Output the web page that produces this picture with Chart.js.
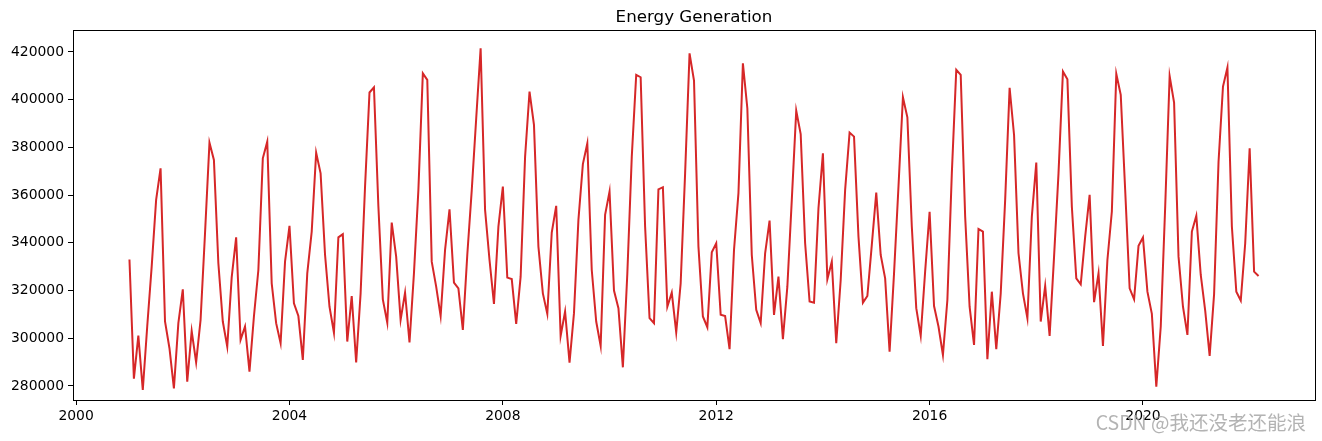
<!DOCTYPE html>
<html>
<head>
<meta charset="utf-8">
<script src="https://cdn.jsdelivr.net/npm/chart.js@4"></script>
<style>
  html, body { margin: 0; padding: 0; background: #fff; }
  #wrap { position: relative; width: 1322px; height: 441px; }
  canvas { display: block; }
</style>
</head>
<body>
<div id="wrap"><canvas id="c" width="1322" height="441"></canvas></div>
<script>
// ---- data (monthly, starting Jan 2001) ----
const startYear = 2001;
const startMonth = 1;
const generation = [
  // 2001
  333000, 283000, 301100, 278300, 305000, 330000, 358000, 371200, 307000, 295800, 279000, 306300,
  // 2002
  320500, 281800, 303000, 289900, 307700, 344000, 382000, 374700, 331400, 307000, 296500, 325500,
  // 2003
  342300, 299300, 304900, 286000, 309100, 328600, 375400, 382400, 323000, 306300, 297900, 332100,
  // 2004
  347100, 314600, 309300, 290900, 327200, 344700, 377800, 369100, 335000, 313200, 302300, 342300,
  // 2005
  343600, 298600, 317700, 289800, 318800, 363600, 403000, 405200, 355200, 316300, 306500, 348500,
  // 2006
  334200, 307700, 319100, 298200, 327200, 362200, 411000, 408300, 332100, 321600, 309300, 337000,
  // 2007
  354000, 323300, 320900, 303500, 335000, 362000, 392000, 421500, 353800, 332800, 314400, 346800,
  // 2008
  363600, 325400, 324800, 306000, 325800, 376000, 403400, 389400, 338400, 318800, 310200, 344300,
  // 2009
  355500, 301000, 311200, 289800, 310500, 349600, 373000, 381700, 328600, 307000, 296800, 351700,
  // 2010
  361500, 320000, 312600, 287800, 327000, 376000, 410400, 409400, 346800, 308400, 306300, 362400,
  // 2011
  363300, 313200, 319100, 302500, 323000, 369100, 419400, 408000, 338400, 309100, 304600, 336000,
  // 2012
  339800, 309800, 309300, 295400, 337000, 360800, 415200, 396400, 334900, 311900, 306300, 335600,
  // 2013
  349300, 309800, 325800, 299600, 321600, 358000, 395400, 385600, 339800, 315400, 314900, 354500,
  // 2014
  377500, 324700, 332100, 297900, 324400, 362200, 386200, 384500, 342600, 314900, 317700, 339100,
  // 2015
  361000, 334900, 325100, 294400, 327200, 363600, 401000, 392600, 346800, 312600, 301000, 328000,
  // 2016
  353000, 313500, 304900, 293000, 316000, 369100, 412500, 410400, 351000, 313200, 297200, 345800,
  // 2017
  344700, 291200, 319500, 295400, 318800, 358000, 405000, 385200, 335600, 318800, 308400, 351000,
  // 2018
  373600, 307000, 321900, 301000, 334200, 369100, 411800, 408500, 355200, 325100, 322600, 342600,
  // 2019
  360100, 315100, 327200, 296800, 332800, 353100, 410800, 402000, 362000, 320900, 316300, 338700,
  // 2020
  342200, 319500, 310200, 279700, 304900, 355200, 409900, 398800, 334200, 313200, 301400, 344700,
  // 2021
  351300, 326500, 311600, 292600, 318500, 374000, 405500, 413500, 346800, 319500, 315800, 339800,
  // 2022
  379600, 327900, 326100
];
const xTicks = [2000, 2004, 2008, 2012, 2016, 2020];
const yTicks = [280000, 300000, 320000, 340000, 360000, 380000, 400000, 420000];
const titleText = 'Energy Generation';
const watermarkText = 'CSDN @我还没老还能浪';

// ---- build points (x in fractional years) ----
const points = generation.map((v, i) => {
  const m = (startMonth - 1) + i;
  return { x: startYear + m / 12, y: v };
});
const xs = points.map(p => p.x);
const xMinD = Math.min(...xs), xMaxD = Math.max(...xs);
const xPad = (xMaxD - xMinD) * 0.05;
const yAxisMin = 274100, yAxisMax = 429200;

const PLOT = { left: 73, right: 1315, top: 30, bottom: 400 };
const W = 1322, H = 441;

const framePlugin = {
  id: 'frame',
  afterDatasetsDraw(chart) {
    const { ctx, chartArea: a } = chart;
    ctx.save();
    ctx.strokeStyle = '#000';
    ctx.lineWidth = 1;
    ctx.strokeRect(Math.round(a.left) + 0.5, Math.round(a.top) + 0.5,
                   Math.round(a.right - a.left), Math.round(a.bottom - a.top));
    ctx.restore();
  },
  afterDraw(chart) {
    const { ctx, chartArea: a } = chart;
    ctx.save();
    ctx.fillStyle = '#000';
    ctx.font = '16.7px "DejaVu Sans"';
    ctx.textAlign = 'center';
    ctx.textBaseline = 'alphabetic';
    ctx.fillText(titleText, (a.left + a.right) / 2, a.top - 8);
    // watermark
    ctx.font = '19.5px "Noto Sans CJK SC"';
    ctx.textAlign = 'right';
    ctx.textBaseline = 'middle';
    ctx.fillStyle = 'rgba(160,160,160,0.8)';
    ctx.fillText(watermarkText, 1306, 423);
    ctx.restore();
  }
};

new Chart(document.getElementById('c'), {
  type: 'line',
  data: {
    datasets: [{
      data: points,
      borderColor: '#d62728',
      borderWidth: 2,
      pointRadius: 0,
      tension: 0,
      fill: false
    }]
  },
  options: {
    responsive: false,
    animation: false,
    devicePixelRatio: 1,
    layout: { padding: { top: PLOT.top, right: W - PLOT.right, bottom: 0, left: 0 } },
    plugins: { legend: { display: false }, tooltip: { enabled: false }, title: { display: false } },
    scales: {
      x: {
        type: 'linear',
        min: xMinD - xPad,
        max: xMaxD + xPad,
        afterBuildTicks: s => { s.ticks = xTicks.map(v => ({ value: v })); },
        afterFit: s => { s.height = H - PLOT.bottom; },
        grid: { drawOnChartArea: false, drawTicks: true, tickLength: 5, color: '#000', lineWidth: 1 },
        border: { display: true, color: '#000', width: 1 },
        ticks: { color: '#000', font: { family: 'DejaVu Sans', size: 13.9 }, padding: 3,
                 maxRotation: 0, autoSkip: false, callback: v => String(v) }
      },
      y: {
        type: 'linear',
        min: yAxisMin,
        max: yAxisMax,
        afterBuildTicks: s => { s.ticks = yTicks.map(v => ({ value: v })); },
        afterFit: s => { s.width = PLOT.left; },
        grid: { drawOnChartArea: false, drawTicks: true, tickLength: 5, color: '#000', lineWidth: 1 },
        border: { display: true, color: '#000', width: 1 },
        ticks: { color: '#000', font: { family: 'DejaVu Sans', size: 13.9 }, padding: 4,
                 autoSkip: false, callback: v => String(v) }
      }
    }
  },
  plugins: [framePlugin]
});
</script>
</body>
</html>
